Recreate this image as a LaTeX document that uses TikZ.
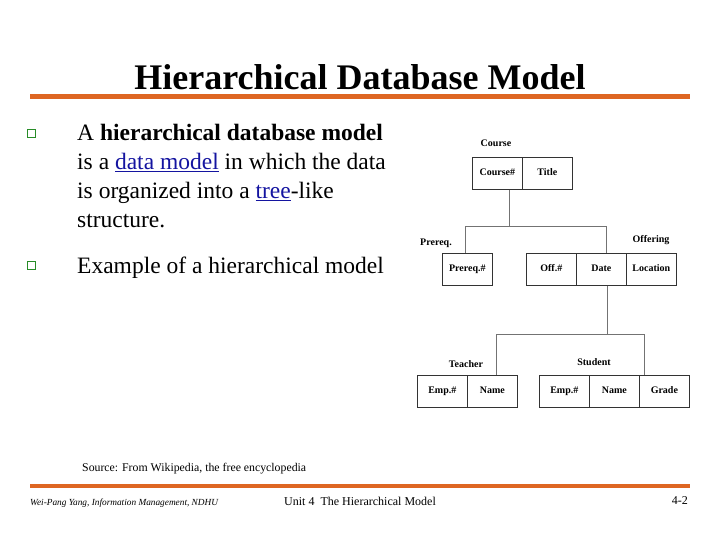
\documentclass[tikz,border=0pt]{standalone}
\usepackage{fontspec}
\setmainfont{Liberation Serif}
\definecolor{rule}{RGB}{222,102,34}
\definecolor{link}{RGB}{20,20,160}
\definecolor{bgreen}{RGB}{40,140,40}
\begin{document}
\begin{tikzpicture}[x=1pt,y=-1pt,
  fld/.style={draw=black!80,line width=0.7pt,minimum width=50pt,minimum height=32pt,inner sep=0pt,text height=7pt,text depth=2pt,font=\fontsize{10}{12}\selectfont\bfseries,anchor=north west},
  lbl/.style={font=\fontsize{10}{12}\selectfont\bfseries,inner sep=0pt},
  conn/.style={draw=black!55,line width=0.8pt},
  bul/.style={draw=bgreen,fill=white,line width=0.9pt,minimum size=8pt,inner sep=0pt},
  txt/.style={font=\fontsize{23.5}{29}\selectfont,inner sep=0pt,anchor=base west}]
\useasboundingbox (0,0) rectangle (720,540);
\node[font=\fontsize{36}{40}\selectfont\bfseries] (title) at (360,77) {Hierarchical Database Model};
\fill[rule] (30,94.5) rectangle (690,99.5);
\fill[rule] (30,484) rectangle (690,488);
\node[bul] (b1) at (31,133) {};
\node[bul] (b2) at (31,265) {};
\node[txt] (t1) at (77,141) {A \textbf{hierarchical database model}};
\node[txt] (t2) at (77,170) {is a \textcolor{link}{\underline{data model}} in which the data};
\node[txt] (t3) at (77,199) {is organized into a \textcolor{link}{\underline{tree}}-like};
\node[txt] (t4) at (77,228) {structure.};
\node[txt] (t5) at (77,273) {Example of a hierarchical model};
% diagram
\node[lbl] (lc) at (496,143) {Course};
\node[fld] (c1) at (472,157) {Course\#};
\node[fld] (c2) at (522,157) {Title};
\node[lbl] (lp) at (436,243) {Prereq.};
\node[fld] (p1) at (442,253) {Prereq.\#};
\node[lbl] (lo) at (651,240) {Offering};
\node[fld] (o1) at (526,253) {Off.\#};
\node[fld] (o2) at (576,253) {Date};
\node[fld] (o3) at (626,253) {Location};
\node[lbl] (lt) at (466,364) {Teacher};
\node[fld] (e1) at (417,375) {Emp.\#};
\node[fld] (e2) at (467,375) {Name};
\node[lbl] (ls) at (594,362) {Student};
\node[fld] (s1) at (539,375) {Emp.\#};
\node[fld] (s2) at (589,375) {Name};
\node[fld] (s3) at (639,375) {Grade};
\draw[conn] (c1.south east) ++(-13,0) coordinate (ca) -- ++(0,37) coordinate (cb);
\draw[conn] (p1.north) ++(-2,0) |- (cb) -| ([xshift=5pt]o2.north);
\draw[conn] ([xshift=6pt]o2.south) -- ++(0,49) coordinate (db);
\draw[conn] ([xshift=4pt]e2.north) |- (db) -| ([xshift=5pt]s2.north east);
\node[font=\fontsize{11.8}{13}\selectfont,anchor=west,inner sep=0pt] (src) at (82,469) {Source: From Wikipedia, the free encyclopedia};
\node[font=\fontsize{9.3}{11}\selectfont\itshape,anchor=west,inner sep=0pt] (f1) at (30,503) {Wei-Pang Yang, Information Management, NDHU};
\node[font=\fontsize{12}{14}\selectfont,anchor=west,inner sep=0pt] (f2) at (284,501) {Unit 4 \ The Hierarchical Model};
\node[font=\fontsize{12}{14}\selectfont,anchor=east,inner sep=0pt] (f3) at (688,501) {4-2};
\end{tikzpicture}
\end{document}
